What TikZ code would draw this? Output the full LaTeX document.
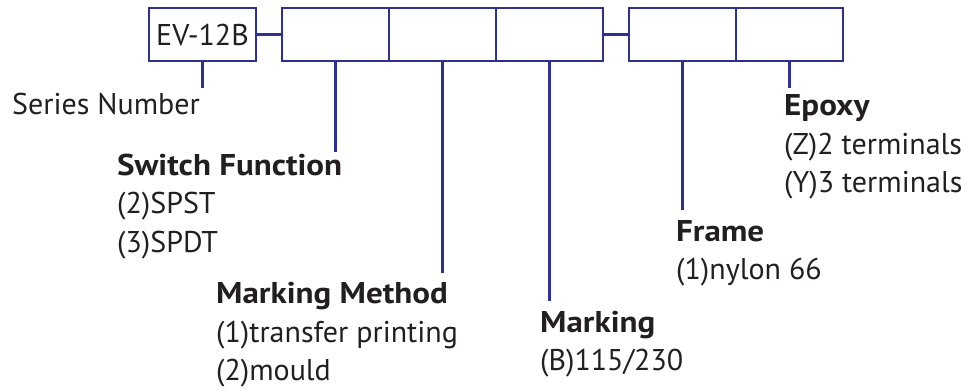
\documentclass[tikz,border=0pt]{standalone}
\usepackage{fontspec}
\setmainfont{PT Sans}[BoldFeatures={FakeStretch=1.1}]
\definecolor{codeblue}{RGB}{46,49,146}
\definecolor{ink}{RGB}{35,31,32}

\tikzset{
  cell/.style={draw=codeblue, line width=2.2pt, minimum width=107pt, minimum height=53pt,
    inner sep=0pt, text=ink, font=\fontsize{30}{36}\selectfont},
  lead/.style={draw=codeblue, line width=2.2pt},
  caption/.style={anchor=base west, inner sep=0pt, align=left, text=ink,
    font=\fontsize{30}{38.5}\selectfont}
}

\begin{document}
\begin{tikzpicture}[x=1pt, y=-1pt]
  \useasboundingbox (0,0) rectangle (976,389);

  % code boxes
  \node[cell] (SER) at (202.5,34.5) {EV-12B};
  \node[cell] (FUN) at (335.5,34.5) {};
  \node[cell] (MET) at (442.5,34.5) {};
  \node[cell] (MRK) at (549.5,34.5) {};
  \node[cell] (FRM) at (682.5,34.5) {};
  \node[cell] (EPX) at (789.5,34.5) {};

  \draw[lead] (SER) -- (FUN);
  \draw[lead] (MRK) -- (FRM);

  % captions (placed at the baseline of their last line)
  \node[caption] (SERt) at (12,114) {Series Number};
  \node[caption] (FUNt) at (117,252) {\textbf{Switch Function}\\(2)SPST\\(3)SPDT};
  \node[caption] (METt) at (216,380.5) {\textbf{Marking Method}\\(1)transfer printing\\(2)mould};
  \node[caption] (MRKt) at (540,370.5) {\textbf{Marking}\\(B)115/230};
  \node[caption] (FRMt) at (676,279.5) {\textbf{Frame}\\(1)nylon 66};
  \node[caption] (EPXt) at (784,192.5) {\textbf{Epoxy}\\(Z)2 terminals\\(Y)3 terminals};

  % leader ends
  \coordinate (SERe) at (202.5,88);
  \coordinate (FUNe) at (335.5,152);
  \coordinate (METe) at (442.5,273);
  \coordinate (MRKe) at (549.5,301);
  \coordinate (FRMe) at (682.5,210);
  \coordinate (EPXe) at (789.5,88);

  \draw[lead] (SER.south) -- (SERe);
  \draw[lead] (FUN.south) -- (FUNe);
  \draw[lead] (MET.south) -- (METe);
  \draw[lead] (MRK.south) -- (MRKe);
  \draw[lead] (FRM.south) -- (FRMe);
  \draw[lead] (EPX.south) -- (EPXe);
\end{tikzpicture}
\end{document}
